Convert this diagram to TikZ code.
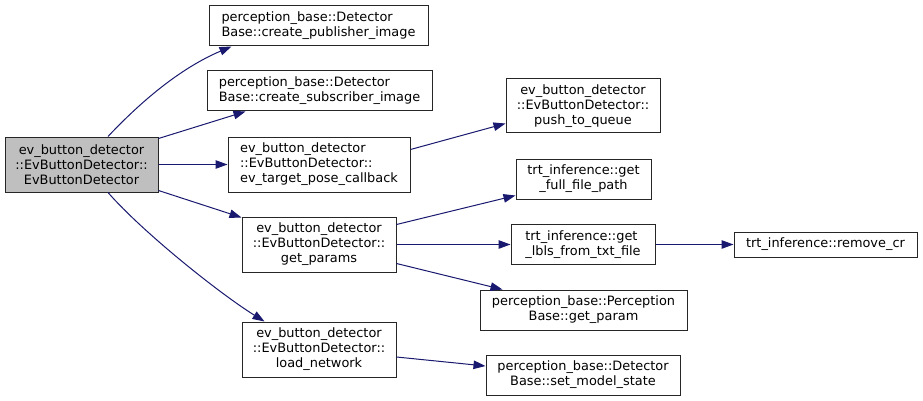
\documentclass[tikz,border=0pt]{standalone}
\usepackage{fontspec}
\setmainfont{DejaVu Sans}
\usetikzlibrary{arrows.meta}
\definecolor{edgeblue}{HTML}{191970}
\definecolor{rootgray}{HTML}{BFBFBF}
\tikzset{
  fbox/.style={draw=black!85, line width=1pt, fill=white, inner sep=0pt,
    font=\fontsize{12.9}{15}\selectfont, align=center},
  lbox/.style={fbox, align=left},
  edge/.style={draw=edgeblue, line width=1pt,
    -{Triangle[length=12pt,width=8.5pt]}},
}
\begin{document}
\begin{tikzpicture}[x=1pt,y=-1pt]
\useasboundingbox[fill=white] (0,0) rectangle (923,401);

\node[fbox, fill=rootgray, minimum width=153pt, minimum height=55pt] (root) at (81.5,164.5)
  {ev\_button\_detector\\::EvButtonDetector::\\EvButtonDetector};
\node[lbox, minimum width=219pt, minimum height=40pt] (pub) at (318.5,26)
  {perception\_base::Detector\\Base::create\_publisher\_image};
\node[lbox, minimum width=225pt, minimum height=40pt] (sub) at (319.5,91)
  {perception\_base::Detector\\Base::create\_subscriber\_image};
\node[lbox, minimum width=182pt, minimum height=55pt] (cb) at (319,164.5)
  {ev\_button\_detector\\::EvButtonDetector::\\ev\_target\_pose\_callback};
\node[fbox, minimum width=154pt, minimum height=55pt] (gp) at (319,244.5)
  {ev\_button\_detector\\::EvButtonDetector::\\get\_params};
\node[fbox, minimum width=154pt, minimum height=55pt] (ln) at (319,349.5)
  {ev\_button\_detector\\::EvButtonDetector::\\load\_network};
\node[fbox, minimum width=154pt, minimum height=54pt] (pq) at (583,106)
  {ev\_button\_detector\\::EvButtonDetector::\\push\_to\_queue};
\node[fbox, minimum width=135pt, minimum height=40pt] (ff) at (583.5,179)
  {trt\_inference::get\\\_full\_file\_path};
\node[lbox, minimum width=144pt, minimum height=40pt] (lb) at (583,244.5)
  {trt\_inference::get\\\_lbls\_from\_txt\_file};
\node[fbox, minimum width=207pt, minimum height=40pt] (gpa) at (583.5,310)
  {perception\_base::Perception\\Base::get\_param};
\node[fbox, minimum width=194pt, minimum height=40pt] (sm) at (583,375)
  {perception\_base::Detector\\Base::set\_model\_state};
\node[fbox, minimum width=183pt, minimum height=25pt] (rc) at (825.5,244.5)
  {trt\_inference::remove\_cr};

\draw[edge] ([xshift=26.5pt]root.north) .. controls +(32,-34) and +(-52,22) .. ([xshift=23pt]pub.south west);
\draw[edge] ([yshift=-2pt]root.north east) -- ([xshift=39pt]sub.south west);
\draw[edge] (root.east) -- (cb.west);
\draw[edge] ([yshift=2pt]root.south east) -- ([yshift=-1pt]gp.north west);
\draw[edge] ([xshift=26.5pt]root.south) .. controls +(35,40) and +(-45,-28) .. ([xshift=23pt]ln.north west);
\draw[edge] ([yshift=-13pt]cb.north east) -- ([yshift=10pt]pq.south west);
\draw[edge] ([yshift=-8pt]gp.north east) -- ([yshift=4pt]ff.south west);
\draw[edge] (gp.east) -- (lb.west);
\draw[edge] ([yshift=9pt]gp.south east) -- ([xshift=23pt]gpa.north west);
\draw[edge] ([yshift=-7.5pt]ln.east) -- ([yshift=9pt]sm.west);
\draw[edge] (lb.east) -- (rc.west);
\end{tikzpicture}
\end{document}
